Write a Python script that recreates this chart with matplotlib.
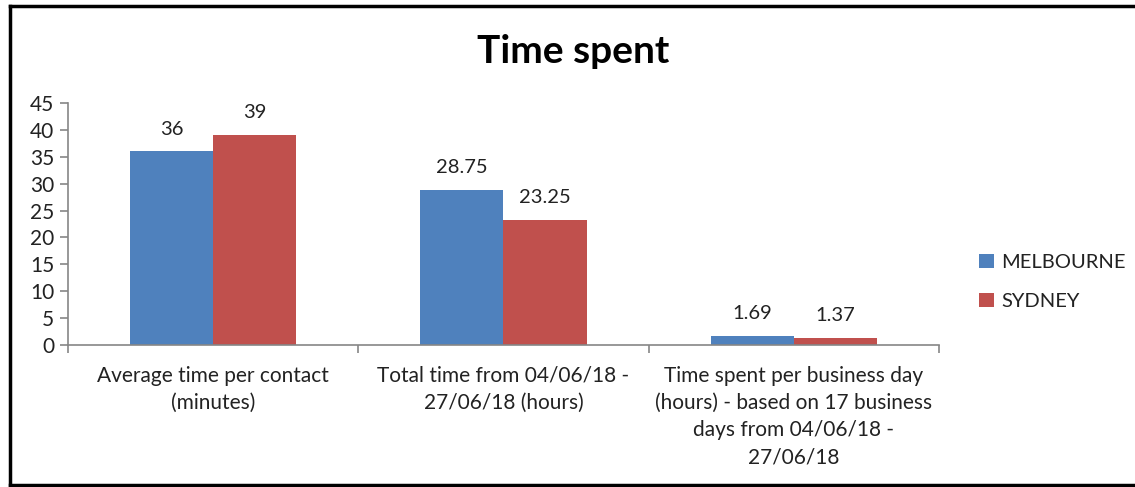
import matplotlib.pyplot as plt
from matplotlib.lines import Line2D
import numpy as np

plt.rcParams['font.family'] = ['Lato', 'DejaVu Sans']

categories = ['Average time per contact\n(minutes)',
              'Total time from 04/06/18 -\n27/06/18 (hours)',
              'Time spent per business day\n(hours) - based on 17 business\ndays from 04/06/18 -\n27/06/18']
melbourne = [36, 28.75, 1.69]
sydney = [39, 23.25, 1.37]
series_names = ['MELBOURNE', 'SYDNEY']

color_mel = '#4F81BD'
color_syd = '#C0504D'
axis_color = '#868686'

fig = plt.figure(figsize=(11.35, 4.87), dpi=100)
ax = fig.add_axes([0.0599, 0.2916, 0.7674, 0.4969])

x = np.arange(len(categories))
w = 0.286
b1 = ax.bar(x - w / 2, melbourne, w, color=color_mel, label=series_names[0])
b2 = ax.bar(x + w / 2, sydney, w, color=color_syd, label=series_names[1])
for bars, vals in ((b1, melbourne), (b2, sydney)):
    ax.bar_label(bars, labels=['{:g}'.format(v) for v in vals], padding=10,
                 fontsize=14.5, color='#222222')

ax.set_xlim(-0.5, 2.5)
ax.set_ylim(0, 45)
ax.set_yticks(range(0, 46, 5))
ax.set_xticks(x)
ax.set_xticklabels(categories, fontsize=15, linespacing=1.45, color='#222222')
ax.set_xticks([-0.5, 0.5, 1.5, 2.5], minor=True)
ax.tick_params(axis='x', which='major', length=0, pad=15)
ax.tick_params(axis='x', which='minor', length=6, color=axis_color, width=1.2)
ax.tick_params(axis='y', length=6, color=axis_color, width=1.2, labelsize=15,
               labelcolor='#222222', pad=4)

for s in ['top', 'right']:
    ax.spines[s].set_visible(False)
for s in ['left', 'bottom']:
    ax.spines[s].set_color(axis_color)
    ax.spines[s].set_linewidth(1.2)

fig.text(0.505, 0.895, 'Time spent', ha='center', va='center',
         fontsize=28, fontweight='bold', color='black')

fig.legend(handles=[b1, b2], labels=series_names, loc='center left',
           bbox_to_anchor=(0.847, 0.421), frameon=False, fontsize=14.5,
           handlelength=0.7, handleheight=0.7, handletextpad=0.4,
           labelspacing=1.1, labelcolor='#222222')

# outer frame
fig.add_artist(Line2D([0.0088, 1.0], [0.9877, 0.9877], color='black', lw=2.5,
                      transform=fig.transFigure))
fig.add_artist(Line2D([0.0088, 0.0088], [0.004, 0.9877], color='black', lw=2.5,
                      transform=fig.transFigure))
fig.add_artist(Line2D([0.0088, 1.0], [0.004, 0.004], color='black', lw=2.5,
                      transform=fig.transFigure))

fig.savefig('out.png', dpi=100)
